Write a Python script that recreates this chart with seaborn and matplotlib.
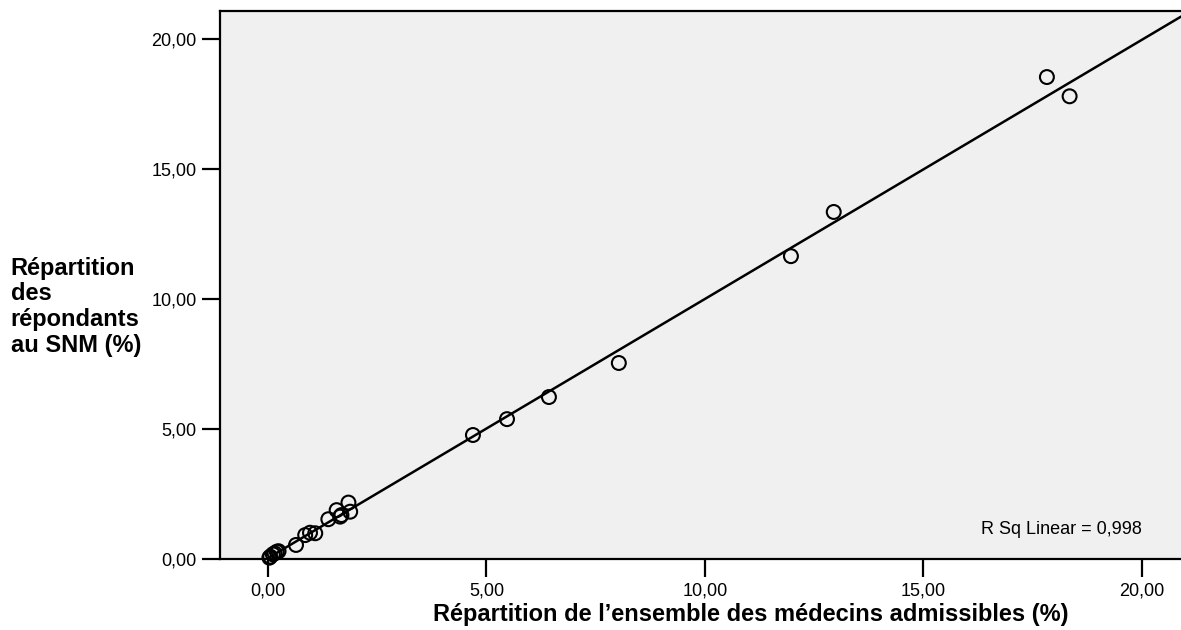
import numpy as np
import matplotlib
matplotlib.use("Agg")
import matplotlib.pyplot as plt
import seaborn as sns
from matplotlib.ticker import FuncFormatter

# share of all eligible physicians (%) vs share of SNM respondents (%)
ensemble = [17.83, 18.35, 12.95, 11.97, 8.03, 6.43, 5.47, 4.69,
            1.84, 1.88, 1.57, 1.68, 1.65, 1.38, 1.08, 0.96, 0.85, 0.64,
            0.24, 0.20, 0.15, 0.11, 0.05, 0.03]
repondants = [18.54, 17.80, 13.35, 11.65, 7.54, 6.23, 5.38, 4.77,
              2.17, 1.82, 1.88, 1.69, 1.63, 1.53, 0.99, 1.01, 0.92, 0.54,
              0.30, 0.28, 0.22, 0.18, 0.09, 0.05]
ticks = [0, 5, 10, 15, 20]
r2_label = "R Sq Linear = 0,998"

sns.set_style("ticks")
plt.rcParams["font.family"] = ["Liberation Sans", "DejaVu Sans"]
plt.rcParams["text.color"] = "black"

fig = plt.figure(figsize=(11.81, 6.3), dpi=100)
ax = fig.add_axes([0.1863, 0.1127, 0.8137, 0.8698])
ax.set_facecolor("#f0f0f0")

xlim = (-1.1, 20.9)
ylim = (0, 21.08)
ax.set_xlim(xlim)
ax.set_ylim(ylim)

# linear fit line across the whole axis
slope, inter = np.polyfit(ensemble, repondants, 1)
xs = np.array(xlim)
ax.plot(xs, slope * xs + inter, color="black", lw=1.8, zorder=2)

sns.scatterplot(x=ensemble, y=repondants, ax=ax, marker="o", s=100,
                facecolor="none", edgecolor="black", linewidth=1.5,
                zorder=3, clip_on=False)

fmt = FuncFormatter(lambda v, p: f"{v:.2f}".replace(".", ","))
ax.set_xticks(ticks)
ax.set_yticks(ticks)
ax.xaxis.set_major_formatter(fmt)
ax.yaxis.set_major_formatter(fmt)
ax.tick_params(axis="both", direction="out", length=13, width=1.6,
               labelsize=13, colors="black", labelcolor="black", pad=4)

for side in ["left", "bottom", "top"]:
    ax.spines[side].set_linewidth(1.6)
    ax.spines[side].set_color("black")
ax.spines["right"].set_visible(False)

ax.text(0.959, 0.053, r2_label, transform=ax.transAxes, ha="right",
        va="center", fontsize=13, color="black")

fig.text(0.636, 0.024, "Répartition de l\u2019ensemble des médecins admissibles (%)",
         ha="center", va="center", fontsize=17, fontweight="bold", color="black")
fig.text(0.009, 0.513, "Répartition\ndes\nrépondants\nau SNM (%)",
         ha="left", va="center", fontsize=17, fontweight="bold",
         linespacing=1.15, color="black")

fig.savefig("out.png", dpi=100)
